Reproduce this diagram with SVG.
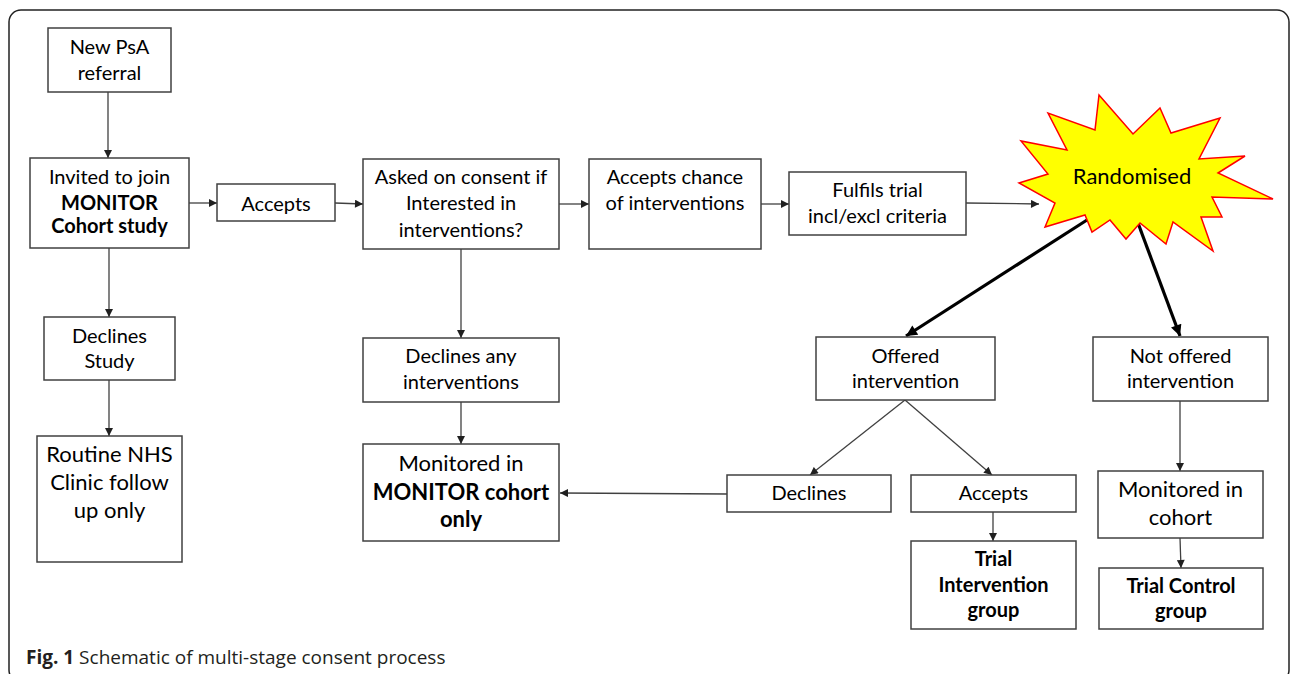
<svg xmlns="http://www.w3.org/2000/svg" width="1290" height="674" viewBox="0 0 1290 674">
<style>
.box{fill:#fff;stroke:#404040;stroke-width:1.5}
.t{font-family:Lato,"Liberation Sans",sans-serif;font-size:20px;fill:#000;text-anchor:middle}
.b{font-weight:bold}
.lg{font-size:22px}
.c{stroke:#404040;stroke-width:1.3;fill:none;marker-end:url(#ah)}
.k{stroke:#000;stroke-width:3.2;fill:none;marker-end:url(#ahk)}
.cap{font-family:"Open Sans","Liberation Sans",sans-serif;font-size:19px;fill:#231f20}
</style>
<defs>
<marker id="ah" viewBox="0 0 10 10" refX="10" refY="5" markerWidth="9" markerHeight="8" markerUnits="userSpaceOnUse" orient="auto">
<path d="M0,0 L10,5 L0,10 z" fill="#202020"/>
</marker>
<marker id="ahk" viewBox="0 0 10 10" refX="10" refY="5" markerWidth="13" markerHeight="11" markerUnits="userSpaceOnUse" orient="auto">
<path d="M0,0 L10,5 L0,10 z" fill="#000"/>
</marker>
</defs>
<rect x="9" y="10" width="1280" height="672" rx="12" fill="none" stroke="#222" stroke-width="1.5"/>
<g id="connectors">
<line class="c" x1="108" y1="92" x2="108" y2="158"/>
<line class="c" x1="189" y1="203" x2="217" y2="203"/>
<line class="c" x1="335" y1="203" x2="363" y2="204"/>
<line class="c" x1="559" y1="204" x2="589" y2="204"/>
<line class="c" x1="761" y1="204" x2="789" y2="204"/>
<line class="c" x1="966" y1="203" x2="1039" y2="204"/>
<line class="c" x1="109" y1="248" x2="109" y2="317"/>
<line class="c" x1="109" y1="380" x2="109" y2="436"/>
<line class="c" x1="461" y1="249" x2="461" y2="338"/>
<line class="c" x1="461" y1="402" x2="461" y2="444"/>
<line class="k" x1="1087" y1="220" x2="906" y2="336"/>
<line class="k" x1="1138" y1="223" x2="1180" y2="336"/>
<line class="c" x1="905" y1="400" x2="810" y2="475"/>
<line class="c" x1="905" y1="400" x2="992" y2="475"/>
<line class="c" x1="727" y1="494" x2="560" y2="493"/>
<line class="c" x1="993" y1="512" x2="993" y2="541"/>
<line class="c" x1="1180" y1="401" x2="1180" y2="471"/>
<line class="c" x1="1180" y1="538" x2="1181" y2="568"/>
</g>
<g id="n-newpsa"><rect class="box" x="48" y="28" width="123" height="64"/>
<text class="t" x="109.5" y="54">New PsA</text><text class="t" x="109.5" y="80">referral</text></g>
<g id="n-invited"><rect class="box" x="30" y="158" width="159" height="90"/>
<text class="t" x="109.5" y="184">Invited to join</text><text class="t b" x="109.5" y="210">MONITOR</text><text class="t b" x="109.5" y="233">Cohort study</text></g>
<g id="n-accepts1"><rect class="box" x="217" y="184" width="118" height="37"/>
<text class="t" x="276" y="211">Accepts</text></g>
<g id="n-asked"><rect class="box" x="363" y="159" width="196" height="90"/>
<text class="t" x="461" y="184">Asked on consent if</text><text class="t" x="461" y="210">Interested in</text><text class="t" x="461" y="237">interventions?</text></g>
<g id="n-chance"><rect class="box" x="589" y="159" width="172" height="90"/>
<text class="t" x="675" y="184">Accepts chance</text><text class="t" x="675" y="210">of interventions</text></g>
<g id="n-fulfils"><rect class="box" x="789" y="172" width="177" height="63"/>
<text class="t" x="877.5" y="197">Fulfils trial</text><text class="t" x="877.5" y="223">incl/excl criteria</text></g>
<g id="n-randomised">
<polygon points="1099,95 1133,134 1160,108 1171,133 1220,118 1199,159 1245,156 1218,173 1273,199 1212,197 1222,217 1201,217 1213,251 1173,222 1166,244 1140,223 1126,239 1110,220 1092,232 1085,215 1045,227 1055,203 1019,183 1048,174 1021,141 1067,150 1048,113 1095,130" fill="#ffff00" stroke="#ff0000" stroke-width="1.5" stroke-linejoin="miter"/>
<text class="t" x="1132" y="184" style="font-size:22px">Randomised</text></g>
<g id="n-declinesstudy"><rect class="box" x="44" y="317" width="131" height="63"/>
<text class="t" x="109.5" y="343">Declines</text><text class="t" x="109.5" y="368">Study</text></g>
<g id="n-routine"><rect class="box" x="37" y="436" width="145" height="126"/>
<text class="t lg" x="109.5" y="462">Routine NHS</text><text class="t lg" x="109.5" y="490">Clinic follow</text><text class="t lg" x="109.5" y="518">up only</text></g>
<g id="n-declinesany"><rect class="box" x="363" y="338" width="196" height="64"/>
<text class="t" x="461" y="363">Declines any</text><text class="t" x="461" y="389">interventions</text></g>
<g id="n-monitored"><rect class="box" x="363" y="444" width="196" height="97"/>
<text class="t lg" x="461" y="471">Monitored in</text><text class="t lg b" x="461" y="500">MONITOR cohort</text><text class="t lg b" x="461" y="527">only</text></g>
<g id="n-offered"><rect class="box" x="816" y="337" width="179" height="63"/>
<text class="t" x="905.5" y="363">Offered</text><text class="t" x="905.5" y="388">intervention</text></g>
<g id="n-notoffered"><rect class="box" x="1093" y="337" width="175" height="64"/>
<text class="t" x="1180.5" y="363">Not offered</text><text class="t" x="1180.5" y="388">intervention</text></g>
<g id="n-declines"><rect class="box" x="727" y="475" width="164" height="37"/>
<text class="t" x="809" y="500">Declines</text></g>
<g id="n-accepts2"><rect class="box" x="911" y="475" width="165" height="37"/>
<text class="t" x="993.5" y="500">Accepts</text></g>
<g id="n-trialint"><rect class="box" x="911" y="541" width="165" height="88"/>
<text class="t b" x="993.5" y="566">Trial</text><text class="t b" x="993.5" y="592">Intervention</text><text class="t b" x="993.5" y="617">group</text></g>
<g id="n-cohort"><rect class="box" x="1098" y="471" width="165" height="67"/>
<text class="t lg" x="1180.5" y="497">Monitored in</text><text class="t lg" x="1180.5" y="525">cohort</text></g>
<g id="n-trialctrl"><rect class="box" x="1099" y="568" width="164" height="61"/>
<text class="t b" x="1181" y="593">Trial  Control</text><text class="t b" x="1181" y="618">group</text></g>
<text class="cap" x="26" y="664"><tspan font-weight="bold">Fig. 1</tspan> Schematic of multi-stage consent process</text>
</svg>
